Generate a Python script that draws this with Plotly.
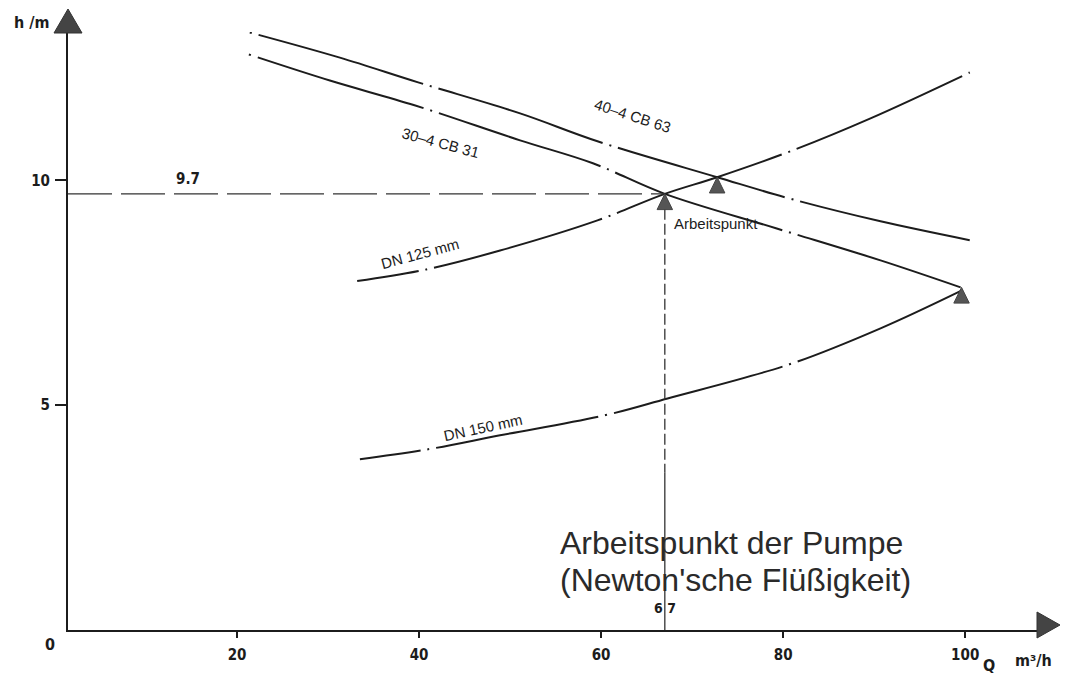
import plotly.graph_objects as go

# ---------------- data (Q in m3/h, h in m) ----------------
cb63_q = [21.4, 31.3, 39.9, 51.1, 59.6, 72.75, 81.0, 90.7, 100.5]
cb63_h = [13.29, 12.73, 12.18, 11.49, 10.87, 10.07, 9.58, 9.09, 8.67]

cb31_q = [21.3, 30.2, 39.5, 51.1, 59.1, 67.0, 79.3, 90.7, 99.5]
cb31_h = [12.80, 12.22, 11.67, 10.89, 10.38, 9.70, 8.93, 8.22, 7.62]

dn125_q = [33.2, 40.8, 48.9, 59.6, 67.0, 72.75, 80.7, 89.6, 100.5]
dn125_h = [7.76, 8.02, 8.44, 9.11, 9.70, 10.07, 10.64, 11.38, 12.40]

dn150_q = [33.5, 41.0, 48.9, 60.5, 67.3, 80.7, 90.7, 99.7]
dn150_h = [3.80, 4.02, 4.33, 4.78, 5.15, 5.91, 6.71, 7.56]

op_q = [67.0, 72.75, 99.6]     # intersection points (triangles)
op_h = [9.70, 10.07, 7.62]

x_ticks = [20, 40, 60, 80, 100]
y_ticks = [5, 10]

# ---------------- layout constants ----------------
OFF = 8                       # default page margin of the html body
W, H = 1077 - OFF, 679 - OFF
ML, MR, MT, MB = 68 - OFF, 39, 32 - OFF, 49
PW, PH = W - ML - MR, H - MT - MB
XR = [1.43, 108.0]
YR = [0.0, 13.3]
INK = "#1c1c1c"
MONO = "DejaVu Sans Condensed, DejaVu Sans"

fig = go.Figure()

def curve(q, h, dash):
    fig.add_trace(go.Scatter(
        x=q, y=h, mode="lines", line=dict(color=INK, width=2, shape="spline", dash=dash),
        hoverinfo="skip", showlegend=False))

curve(cb63_q, cb63_h, "2px,7px,172px,7px,2px,7px,173px,7px,2px,7px,174px,7px,2px,7px,185px,30px")
curve(cb31_q, cb31_h, "2px,7px,174px,7px,2px,7px,170px,7px,2px,7px,177px,7px,2px,7px,180px,30px")
curve(dn125_q, dn125_h, "62px,7px,2px,7px,175px,7px,2px,7px,175px,7px,2px,7px,181px,7px,3px,30px")
curve(dn150_q, dn150_h, "61px,7px,2px,7px,165px,7px,2px,7px,175px,7px,2px,7px,200px,30px")

# reference lines to the operating point
fig.add_trace(go.Scatter(x=[XR[0], op_q[0]], y=[op_h[0], op_h[0]], mode="lines",
                         line=dict(color="#333", width=1.3, dash="44px,9px"),
                         hoverinfo="skip", showlegend=False))
fig.add_trace(go.Scatter(x=[op_q[0], op_q[0]], y=[op_h[0], 3.5], mode="lines",
                         line=dict(color="#333", width=1.3, dash="11px,4px"),
                         hoverinfo="skip", showlegend=False))
fig.add_trace(go.Scatter(x=[op_q[0], op_q[0]], y=[3.5, 0], mode="lines",
                         line=dict(color="#333", width=1.3),
                         hoverinfo="skip", showlegend=False))

# triangles under the intersection points
shapes = []
for q, h in zip(op_q, op_h):
    dx, dy = 0.85, 0.35
    shapes.append(dict(type="path", xref="x", yref="y",
                       path=f"M{q},{h} L{q+dx},{h-dy} L{q-dx},{h-dy} Z",
                       fillcolor="#555", line=dict(color="#444", width=1)))

# screen pixel -> paper coords
def px2x(px): return (px - OFF - ML) / PW
def py2y(py): return (H + OFF - MB - py) / PH

shapes.append(dict(type="path", xref="paper", yref="paper",
                   path=f"M{px2x(68)},{py2y(9)} L{px2x(82)},{py2y(33)} L{px2x(54)},{py2y(33)} Z",
                   fillcolor="#444", line=dict(color="#333", width=1)))
shapes.append(dict(type="path", xref="paper", yref="paper",
                   path=f"M{px2x(1060)},{py2y(625)} L{px2x(1037)},{py2y(612)} L{px2x(1037)},{py2y(638)} Z",
                   fillcolor="#444", line=dict(color="#333", width=1)))

ann = []
def txt(x, y, t, size=12, angle=0, xanchor="center", bold=False, family="Liberation Sans, Arial",
        color=INK, xref="x", yref="y"):
    ann.append(dict(x=x, y=y, xref=xref, yref=yref, text=t, showarrow=False, textangle=angle,
                    xanchor=xanchor, yanchor="middle",
                    font=dict(size=size, family=family, color=color, weight="bold" if bold else "normal")))

txt(63.4, 11.44, "40–4 CB 63", 15, 18)
txt(42.3, 10.84, "30–4 CB 31", 15, 15)
txt(40.1, 8.38, "DN 125 mm", 15, -15)
txt(47.0, 4.51, "DN 150 mm", 15, -12)
txt(op_q[0] + 0.8, op_h[0] - 0.66, "Arbeitspunkt", 15, 0, xanchor="left")
txt(px2x(558), py2y(543), "Arbeitspunkt der Pumpe", 32, 0, xanchor="left", color="#2a2a2a",
    xref="paper", yref="paper")
txt(px2x(558), py2y(580), "(Newton'sche Flüßigkeit)", 32, 0, xanchor="left", color="#2a2a2a",
    xref="paper", yref="paper")
txt(14.6, op_h[0] + 0.34, "9.7", 15, 0, bold=True, family=MONO)
txt(op_q[0], 0.49, "6 7", 14, 0, bold=True, family=MONO)
# labels outside the axis ranges (paper coords)
txt(px2x(50), py2y(644), "0", 16, 0, bold=True, family=MONO, xref="paper", yref="paper")
txt(px2x(32), py2y(22), "h /m", 16, 0, bold=True, family=MONO, xref="paper", yref="paper")
txt(px2x(989), py2y(665), "Q", 16, 0, bold=True, family=MONO, xref="paper", yref="paper")
txt(px2x(1033), py2y(660), "m³/h", 16, 0, bold=True, family=MONO, xref="paper", yref="paper")

tickfont = dict(size=15, family=MONO, color=INK, weight="bold")
fig.update_layout(
    width=W, height=H, margin=dict(l=ML, r=MR, t=MT, b=MB, autoexpand=False),
    paper_bgcolor="white", plot_bgcolor="white",
    shapes=shapes, annotations=ann, showlegend=False,
    xaxis=dict(range=XR, showgrid=False, zeroline=False, showline=True, linecolor=INK, linewidth=2,
               tickmode="array", tickvals=x_ticks, ticktext=[str(v) for v in x_ticks],
               ticks="outside", ticklen=6, tickwidth=1.5, tickcolor=INK, tickfont=tickfont,
               ticklabelstandoff=4, fixedrange=True),
    yaxis=dict(range=YR, showgrid=False, zeroline=False, showline=True, linecolor=INK, linewidth=2,
               tickmode="array", tickvals=y_ticks, ticktext=[str(v) for v in y_ticks],
               ticks="outside", ticklen=11, tickwidth=1.5, tickcolor=INK, tickfont=tickfont,
               ticklabelstandoff=2, fixedrange=True),
)

fig.write_html("out.html")
